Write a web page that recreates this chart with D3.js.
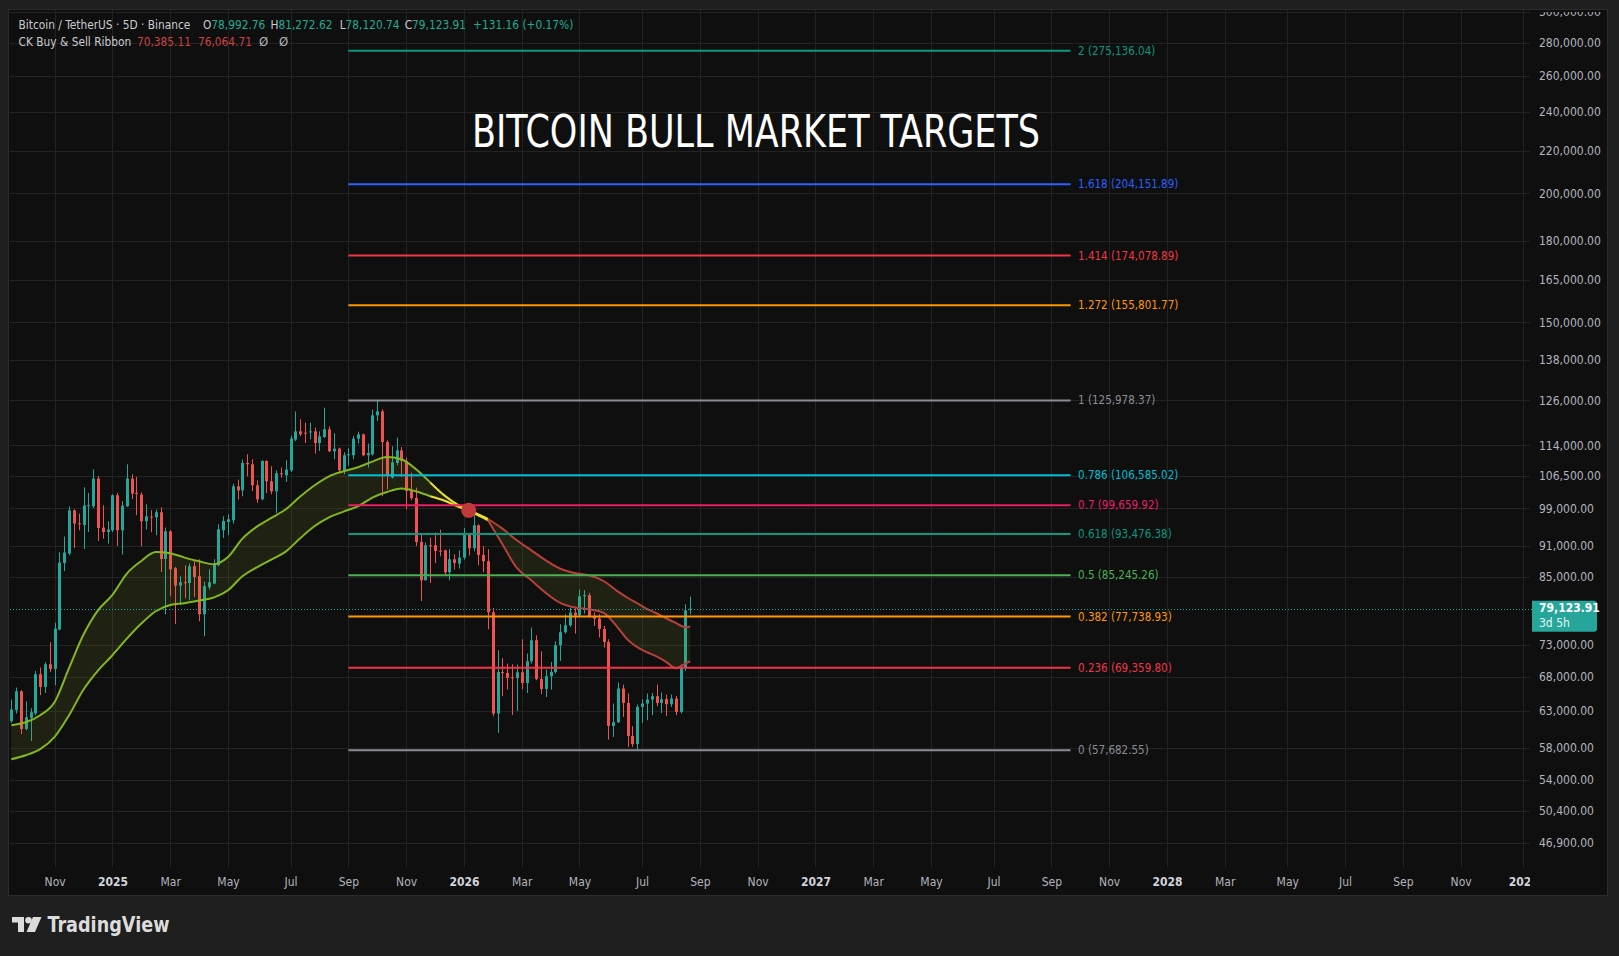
<!DOCTYPE html>
<html><head><meta charset="utf-8">
<script src="https://cdn.jsdelivr.net/npm/d3@7"></script>
<style>
html,body{margin:0;padding:0;background:#1f1f1f;overflow:hidden;}
svg{display:block;}
text{font-family:"DejaVu Sans Condensed","Liberation Sans Narrow","DejaVu Sans",sans-serif;font-stretch:condensed;}
</style></head><body>
<svg id="chart" width="1619" height="956"></svg>
<script>
// ---------------- DATA ----------------
const barStart = [2024, 8, 18]; // first 5D bar (UTC, month 0-based)
const barDays = 5;
const open = [61540,63070,65800,60490,62000,62610,68350,66440,69890,69160,75520,87630,89490,98560,95750,95390,99520,99450,105800,94830,93900,94260,101930,94260,99450,105800,102450,102090,96180,97190,97040,98130,88410,94050,86600,83320,83930,83800,86990,85070,78150,83000,83690,87180,94260,96030,96390,103990,103060,109550,109230,104230,101010,110030,105160,102840,107060,106580,107770,115420,117570,117230,117390,117570,114550,116080,118100,112440,113120,107770,111450,111450,115670,116790,111450,111700,121850,122940,114800,106030,109550,112690,110030,102900,101310,91830,84300,91160,91160,90080,90140,85830,88350,87510,88680,93700,90550,95320,89210,87960,78490,62610,68700,68550,67890,67790,68650,67030,70360,73740,67630,66140,68050,68700,72920,75070,76250,78440,77970,81350,81530,77680,77390,75620,73460,60900,61400,66200,64110,59550,58470,63540,64020,64590,65070,64110,64640,63920,64740,62830,69320,78992.76];
const high = [64590,66350,65950,64350,63350,68850,69380,70200,73410,76710,89750,92950,99450,98790,97850,103760,102450,108010,106410,99680,96180,102150,102450,100630,109230,106820,106180,102610,99900,98560,98720,99230,94830,94260,86850,85070,87180,87510,88150,88350,84060,86400,88350,95540,97260,97690,104620,105560,110380,111700,110450,105390,110200,110200,108740,107770,108430,110200,116450,122940,120770,119880,119880,118550,117570,123960,118890,117050,113380,112190,113200,116340,117500,116970,114390,123410,125978,123490,115240,113710,115930,113530,110870,107220,103690,93570,91710,92740,93780,94410,90280,90350,89350,90140,94750,93700,97630,95540,90960,90350,79260,72110,70870,70000,69890,69850,73900,71580,75850,74570,71950,69070,70250,73570,76420,78150,79340,79260,82570,82440,81960,78440,78150,76130,73900,64020,67090,66800,65470,60860,63880,64640,65470,65550,66800,65610,65320,65320,65120,69850,79910,81272.62];
const low = [61310,62610,59780,60310,58890,62370,65220,65550,68700,66690,75400,86070,89150,90610,94260,90410,93900,99080,92040,92530,91510,93900,91020,89290,99300,101080,97480,90960,94410,93840,93220,85880,78150,81350,76470,79790,80990,80620,81220,76930,74400,82570,83560,86990,92660,93220,95690,100950,101700,106340,102900,100180,100790,102450,102150,97980,106030,105000,107370,115050,116340,114550,115490,111870,112520,115930,112270,110450,107130,106820,108910,110450,114390,111200,108430,111370,120310,101700,103290,105800,108990,106180,98790,100790,91020,80500,84300,83800,87630,88940,85120,84300,86340,86540,88290,89090,89940,87180,85830,75570,62230,59950,65070,66050,62410,62970,66050,65550,70000,67440,65370,64970,66050,68460,70410,74850,75960,74850,77800,78270,77570,76130,74190,72550,59070,59420,61310,62140,58110,58110,57683,61310,61680,62370,63640,62690,62270,63540,62370,62610,68850,78120.74];
const close = [63170,65800,60490,62090,62790,68350,66440,69890,69160,75690,87700,89690,98560,95690,95600,99610,99680,105800,94750,93900,94410,101930,94260,99610,105800,102310,102220,96180,97260,97040,98130,88410,94050,86400,83320,83930,83800,86990,84930,78150,83190,83930,87320,94470,96240,96600,103990,103060,109550,109230,104230,101010,110030,105160,102840,107060,106990,107940,115670,117570,116790,116970,117570,114550,116260,118100,112440,113120,107770,111450,111700,115670,116790,111450,112020,121850,122940,114800,106580,109720,112690,110030,102900,101310,91830,84300,91160,90960,90000,89940,85830,88350,87630,88680,93700,90550,95320,89210,87960,78490,62610,68700,68550,67790,67790,68650,67030,70360,73740,67630,66140,68050,68700,72920,75070,76250,78440,77970,81350,81530,77680,77390,75620,73460,60900,61400,66200,64110,59550,58470,63540,64020,64590,65070,64110,64640,63920,64740,62830,69320,78840,79123.91];

// CK Buy & Sell Ribbon (fast / slow), read at these bar numbers (1-based)
const ribbonBars = [1,4,7,10,13,16,19,22,25,28,31,34,37,40,43,46,49,52,55,58,61,64,67,70,73,76,79,82,85,88,91,94,96,97,100,103,106,109,112,115,118,121,124,127,129,131,133,135,137,139,141,142];
const ribbonFast = [60990,61400,62370,64250,69320,74680,78840,81590,85580,88020,89800,89550,88680,87960,87380,88800,92530,95050,96890,98790,101630,104230,106340,107530,108500,109890,111020,110450,108100,104900,101850,99600,98560,97980,96390,91360,86660,84300,81960,80160,79340,79000,78390,75800,73840,72600,71790,71120,70250,69270,70000,70385.11];
const ribbonSlow = [56530,57040,57810,59420,62370,66050,68910,71310,74010,76540,78670,79790,80090,80570,81110,82440,85070,86790,88290,89880,92600,95170,97040,98280,99450,101400,102680,103480,102840,101700,100680,99300,98560,98130,96670,94620,92180,90140,88150,86540,85690,85250,84170,82200,81080,80090,79090,78320,77450,76640,75900,76064.71];
const crossBar = 96, crossPrice = 98560;

// Fibonacci extension levels
const fibRatios = ["2","1.618","1.414","1.272","1","0.786","0.7","0.618","0.5","0.382","0.236","0"];
const fibPrices = [275136.04,204151.89,174078.89,155801.77,125978.37,106585.02,99659.92,93476.38,85245.26,77738.93,69359.80,57682.55];
const fibStartBar = 71, fibEndBar = 221;

// Axes
const priceTicks = [300000,280000,260000,240000,220000,200000,180000,165000,150000,138000,126000,114000,106500,99000,91000,85000,73000,68000,63000,58000,54000,50400,46900];
const timeTicks = ["2024-11","2025-01","2025-03","2025-05","2025-07","2025-09","2025-11","2026-01","2026-03","2026-05","2026-07","2026-09","2026-11","2027-01","2027-03","2027-05","2027-07","2027-09","2027-11","2028-01","2028-03","2028-05","2028-07","2028-09","2028-11","2029-01"];

// Header
const symbolTitle = "Bitcoin / TetherUS · 5D · Binance";
const ohlcLabels = ["O","H","L","C"];
const ohlcValues = ["78,992.76","81,272.62","78,120.74","79,123.91"];
const changeText = "+131.16 (+0.17%)";
const ribbonName = "CK Buy & Sell Ribbon";
const ribbonValues = ["70,385.11","76,064.71"];
const lastPrice = 79123.91, countdown = "3d 5h";
const chartTitle = "BITCOIN BULL MARKET TARGETS";

// ---------------- STYLE ----------------
const fibColors = ["#089981","#2962ff","#f23645","#ff9800","#8a8d96","#00bcd4","#e91e63","#089981","#4caf50","#ff9800","#f23645","#8a8d96"];
const UP = "#26a69a", DOWN = "#ef5350";
const PL = 10, PR = 1530, PT = 10, PB = 867;

// ---------------- CHART ----------------
const DAY = 86400000;
const t0 = Date.UTC(barStart[0], barStart[1], barStart[2]);
const barDate = k => new Date(t0 + k * barDays * DAY);
const x = d3.scaleUtc().domain([new Date(t0 - 1.35 * DAY), new Date(t0 + 1577.05 * DAY)]).range([PL, PR]);
const y = d3.scaleLog().domain([44439, 300000]).range([PB, 11.9]);

const svg = d3.select("#chart");
svg.append("rect").attr("width", 1619).attr("height", 956).attr("fill", "#1f1f1f");
svg.append("rect").attr("x", 8.5).attr("y", 9.5).attr("width", 1599).attr("height", 886)
  .attr("fill", "#0f0f0f").attr("stroke", "#2c2c2c");

const defs = svg.append("defs");
defs.append("clipPath").attr("id", "plotClip").append("rect")
  .attr("x", PL).attr("y", PT).attr("width", PR - PL).attr("height", PB - PT);
defs.append("clipPath").attr("id", "timeClip").append("rect")
  .attr("x", PL).attr("y", PB).attr("width", PR - PL).attr("height", 28);
defs.append("clipPath").attr("id", "axisClip").append("rect")
  .attr("x", PR).attr("y", PT + 2).attr("width", 78).attr("height", PB - PT - 2);

// time tick positions: first bar on/after the first day of the month
const tickDates = timeTicks.map(s => {
  const [yy, mm] = s.split("-").map(Number);
  const ms = Date.UTC(yy, mm - 1, 1);
  const k = Math.ceil((ms - t0) / (barDays * DAY));
  const d = barDate(k); d.monthStart = new Date(ms); return d;
});
const tickLabel = new Map(tickDates.map(d => [d.getTime(),
  d.monthStart.getUTCMonth() === 0 ? String(d.monthStart.getUTCFullYear()) : d3.utcFormat("%b")(d.monthStart)]));

// grid
const grid = svg.append("g").attr("clip-path", "url(#plotClip)");
grid.selectAll("line.h").data(priceTicks).join("line").attr("class", "h")
  .attr("x1", PL).attr("x2", PR)
  .attr("y1", d => Math.round(y(d)) + 0.5).attr("y2", d => Math.round(y(d)) + 0.5)
  .attr("stroke", "#232323");
grid.selectAll("line.v").data(tickDates).join("line").attr("class", "v")
  .attr("y1", PT).attr("y2", PB)
  .attr("x1", d => Math.round(x(d)) + 0.5).attr("x2", d => Math.round(x(d)) + 0.5)
  .attr("stroke", "#232323");

const plot = svg.append("g").attr("clip-path", "url(#plotClip)");

// candles
const bars = open.map((o, i) => ({ t: barDate(i), o, h: high[i], l: low[i], c: close[i] }));
const cg = plot.append("g");
cg.selectAll("line").data(bars).join("line")
  .attr("x1", d => Math.round(x(d.t)) + 0.5).attr("x2", d => Math.round(x(d.t)) + 0.5)
  .attr("y1", d => y(d.h)).attr("y2", d => y(d.l))
  .attr("stroke", d => d.c >= d.o ? UP : DOWN).attr("stroke-width", 1);
cg.selectAll("rect").data(bars).join("rect")
  .attr("x", d => Math.round(x(d.t)) - 1).attr("width", 3)
  .attr("y", d => y(Math.max(d.o, d.c)))
  .attr("height", d => Math.max(1, y(Math.min(d.o, d.c)) - y(Math.max(d.o, d.c))))
  .attr("fill", d => d.c >= d.o ? UP : DOWN);

// ribbon
const rib = ribbonBars.map((b, i) => ({ b, t: barDate(b - 1), f: ribbonFast[i], s: ribbonSlow[i] }));
plot.append("path").datum(rib)
  .attr("d", d3.area().x(d => x(d.t)).y0(d => y(d.s)).y1(d => y(d.f)).curve(d3.curveMonotoneX))
  .attr("fill", "rgba(140,165,40,0.13)");
const segs = [
  { col: "#82b81e", sel: d => d.b <= 88 },
  { col: "#eee02a", sel: d => d.b >= 88 && d.b <= 100 },
  { col: "#b8403b", sel: d => d.b >= 100 }
];
segs.forEach(sg => {
  const pts = rib.filter(sg.sel);
  ["f", "s"].forEach(k => {
    plot.append("path").datum(pts)
      .attr("d", d3.line().x(d => x(d.t)).y(d => y(d[k])).curve(d3.curveMonotoneX))
      .attr("fill", "none").attr("stroke", sg.col).attr("stroke-width", 2);
  });
});

// fib levels
const fx1 = x(barDate(fibStartBar - 1)), fx2 = x(barDate(fibEndBar - 1));
const fib = fibPrices.map((p, i) => ({ p, r: fibRatios[i], col: fibColors[i] }));
const fg = plot.append("g");
fg.selectAll("line").data(fib).join("line")
  .attr("x1", fx1).attr("x2", fx2).attr("y1", d => y(d.p)).attr("y2", d => y(d.p))
  .attr("stroke", d => d.col).attr("stroke-width", 2);
fg.selectAll("text").data(fib).join("text")
  .attr("x", fx2 + 7.5).attr("y", d => y(d.p) + 4)
  .attr("font-size", 11.5).attr("fill", d => d.col)
  .text(d => `${d.r} (${d3.format(",.2f")(d.p)})`);

// crossing dot
plot.append("circle").attr("cx", x(barDate(crossBar - 1))).attr("cy", y(crossPrice)).attr("r", 7.5)
  .attr("fill", "#c0393b");

// last price line
const yl = y(lastPrice);
svg.append("line").attr("x1", PL).attr("x2", PR + 2).attr("y1", Math.round(yl) + 0.5).attr("y2", Math.round(yl) + 0.5)
  .attr("stroke", UP).attr("stroke-dasharray", "1,2");

// title
svg.append("text").attr("x", 472).attr("y", 147).attr("font-size", 44).attr("fill", "#ffffff")
  .attr("textLength", 568).attr("lengthAdjust", "spacingAndGlyphs").text(chartTitle);

// price axis
const pa = svg.append("g").attr("clip-path", "url(#axisClip)")
  .append("g").attr("transform", `translate(1539,0)`)
  .call(d3.axisRight(y).tickValues(priceTicks).tickFormat(d3.format(",.2f")).tickSize(0).tickPadding(0));
pa.select(".domain").remove();
pa.selectAll("text").attr("font-size", 12).attr("fill", "#b2b5be").attr("font-family", null);

// last price label
svg.append("path")
  .attr("d", `M1532,${yl - 8} H1594 Q1597,${yl - 8} 1597,${yl - 5} V${yl + 20} Q1597,${yl + 23} 1594,${yl + 23} H1532 Z`)
  .attr("fill", UP);
svg.append("text").attr("x", 1539).attr("y", yl + 3.5).attr("font-size", 12).attr("font-weight", "bold")
  .attr("fill", "#ffffff").text(d3.format(",.2f")(lastPrice));
svg.append("text").attr("x", 1539).attr("y", yl + 18).attr("font-size", 12)
  .attr("fill", "#e6f5f3").text(countdown);

// time axis
const ta = svg.append("g").attr("clip-path", "url(#timeClip)")
  .append("g").attr("transform", `translate(0,886)`)
  .call(d3.axisBottom(x).tickValues(tickDates).tickFormat(d => tickLabel.get(d.getTime())).tickSize(0).tickPadding(0));
ta.select(".domain").remove();
ta.selectAll("text").attr("dy", 0).attr("font-size", 12).attr("font-family", null)
  .attr("fill", d => /^\d/.test(tickLabel.get(d.getTime())) ? "#d1d4dc" : "#b2b5be")
  .attr("font-weight", d => /^\d/.test(tickLabel.get(d.getTime())) ? "bold" : "normal");

// header legend
const h1 = svg.append("text").attr("x", 18.6).attr("y", 28.5).attr("font-size", 11.8).attr("fill", "#c9cbd1");
h1.append("tspan").text(symbolTitle);
const ohlcX = [203, 270.5, 339.7, 404.7];
ohlcLabels.forEach((l, i) => {
  h1.append("tspan").attr("x", ohlcX[i]).attr("fill", "#c9cbd1").text(l);
  h1.append("tspan").attr("fill", "#22ab94").text(ohlcValues[i]);
});
h1.append("tspan").attr("x", 473).attr("fill", "#22ab94").text(changeText);
const h2 = svg.append("text").attr("x", 18.6).attr("y", 45.8).attr("font-size", 11.8).attr("fill", "#c9cbd1");
h2.append("tspan").text(ribbonName);
h2.append("tspan").attr("x", 137).attr("fill", "#cc4444").text(ribbonValues[0]);
h2.append("tspan").attr("x", 198).attr("fill", "#cc4444").text(ribbonValues[1]);
h2.append("tspan").attr("x", 259).attr("fill", "#b2b5be").attr("font-size", 13).text("Ø");
h2.append("tspan").attr("x", 279).attr("fill", "#b2b5be").attr("font-size", 13).text("Ø");

// TradingView watermark
const wm = svg.append("g").attr("fill", "#dcdcdc");
wm.append("path").attr("d", "M12,917 H24 V932 H18 V922.5 H12 Z");
wm.append("circle").attr("cx", 28.5).attr("cy", 920.3).attr("r", 3.3);
wm.append("path").attr("d", "M33,917 H41.5 L35,932 H26.5 Z");
svg.append("text").attr("x", 47.5).attr("y", 932).attr("font-size", 21).attr("font-weight", "bold")
  .attr("fill", "#dcdcdc").attr("textLength", 122).attr("lengthAdjust", "spacingAndGlyphs").text("TradingView");
</script>
</body></html>
